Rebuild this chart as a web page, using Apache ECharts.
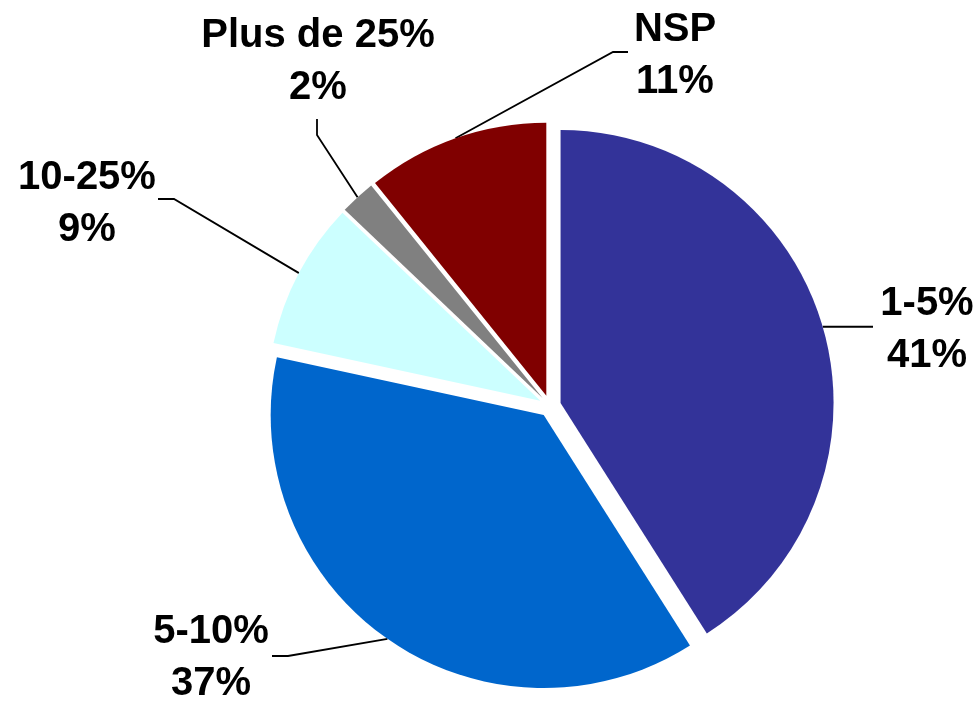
<!DOCTYPE html>
<html>
<head>
<meta charset="utf-8">
<script src="https://cdn.jsdelivr.net/npm/echarts@6/dist/echarts.min.js"></script>
<style>
  html, body { margin: 0; padding: 0; background: #fff; }
  #chart { width: 979px; height: 702px; }
</style>
</head>
<body>
<div id="chart"></div>
<script>
  // données du camembert (parts estimées d'après les angles, étiquettes arrondies)
  var categories = ['1-5%', '5-10%', '10-25%', 'Plus de 25%', 'NSP'];
  var shares = [41, 37.4, 8.7, 2.1, 10.8];
  var colors = ['#333399', '#0066CC', '#CCFFFF', '#808080', '#800000'];

  var cx = 550, cy = 406, R = 273, explode = 11;

  // position des étiquettes (centre du texte) et trait de rappel (coude, fin)
  var labelPlaces = [
    { x: 927, y: 330, elbow: null, end: [873, null] },
    { x: 211, y: 658, elbow: [288, 656], end: [272, 656] },
    { x: 87, y: 204, elbow: [174, 199], end: [158, 199] },
    { x: 318, y: 62, elbow: [317, 135], end: [317, 119] },
    { x: 675, y: 56, elbow: [613, 52], end: [628, 52] }
  ];

  var total = shares.reduce(function (a, b) { return a + b; }, 0);

  function midAngle(i) {
    var before = 0;
    for (var k = 0; k < i; k++) before += shares[k];
    return (before + shares[i] / 2) / total * Math.PI * 2;
  }

  // part "éclatée" : une série par part, décalée le long de sa bissectrice
  var series = categories.map(function (name, i) {
    var a = midAngle(i);
    var c = [cx + explode * Math.sin(a), cy - explode * Math.cos(a)];
    var start = [c[0] + R * Math.sin(a), c[1] - R * Math.cos(a)];
    return {
      type: 'pie',
      center: c,
      radius: R,
      startAngle: 90,
      clockwise: true,
      silent: true,
      avoidLabelOverlap: false,
      emphasis: { disabled: true },
      data: categories.map(function (n, j) {
        var mine = j === i;
        return {
          name: n,
          value: shares[j],
          itemStyle: { color: mine ? colors[j] : 'rgba(0,0,0,0)' },
          label: { show: mine },
          labelLine: { show: mine }
        };
      }),
      label: {
        position: 'outside',
        formatter: function (p) { return p.name + '\n' + Math.round(p.value) + '%'; },
        fontFamily: 'Liberation Sans, Arial, sans-serif',
        fontWeight: 'bold',
        fontSize: 40,
        lineHeight: 52,
        color: '#000'
      },
      labelLine: {
        length: 10,
        length2: 10,
        lineStyle: { color: '#000', width: 1.8 }
      },
      labelLayout: function (params) {
        var pl = labelPlaces[params.dataIndex];
        var end = [pl.end[0], pl.end[1] == null ? start[1] : pl.end[1]];
        var elbow = pl.elbow || [(start[0] + end[0]) / 2, start[1]];
        return {
          x: pl.x,
          y: pl.y,
          align: 'center',
          verticalAlign: 'middle',
          labelLinePoints: [start, elbow, end]
        };
      }
    };
  });

  var chart = echarts.init(document.getElementById('chart'));
  chart.setOption({ animation: false, series: series });
</script>
</body>
</html>
